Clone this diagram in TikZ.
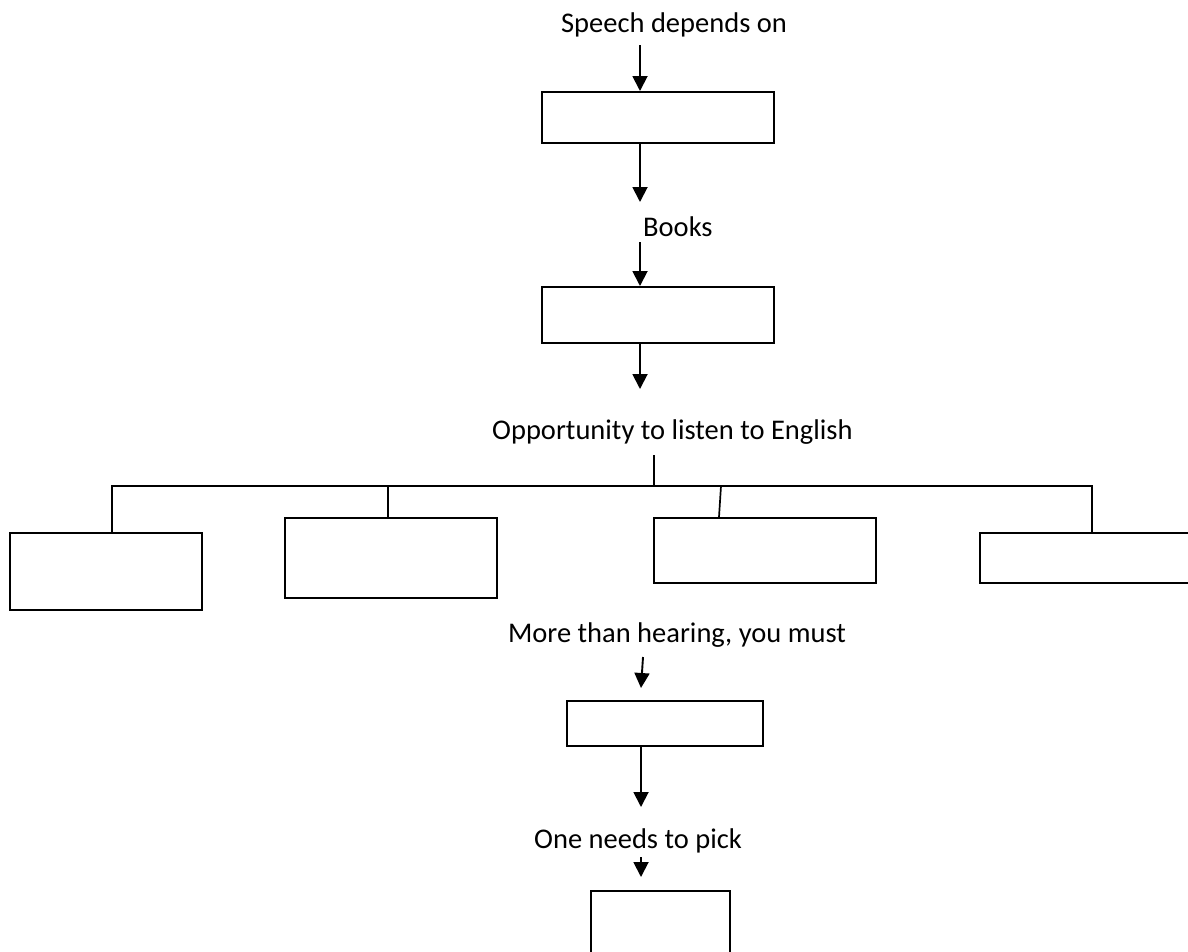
\documentclass[tikz,border=0pt]{standalone}
\usepackage{fontspec}
\setmainfont{Carlito}
\usetikzlibrary{arrows.meta}
\begin{document}
\begin{tikzpicture}[x=1pt,y=-1pt,
  box/.style={draw=black,line width=2pt,rectangle,inner sep=0pt,fill=white},
  lbl/.style={inner sep=0pt,font=\fontsize{28.5}{34}\selectfont},
  arr/.style={line width=1.9pt,-{Triangle[width=15pt,length=15pt]}},
  ln/.style={line width=1.7pt}]
\clip (0,0) rectangle (1188,951);
\fill[white] (0,0) rectangle (1188,951);

% texts
\node[lbl,anchor=base] (t1) at (674,32) {Speech depends on};
\node[lbl,anchor=base west] (t2) at (643,236) {Books};
\node[lbl,anchor=base west] (t3) at (492,439) {Opportunity to listen to English};
\node[lbl,anchor=base] (t4) at (677,642) {More than hearing, you must};
\node[lbl,anchor=base west] (t5) at (534,848) {One needs to pick};

% boxes
\node[box,minimum width=232pt,minimum height=51pt] (b1) at (658,117.5) {};
\node[box,minimum width=232pt,minimum height=56pt] (b2) at (658,315) {};
\node[box,minimum width=192pt,minimum height=77pt] (ba) at (106,571.5) {};
\node[box,minimum width=212pt,minimum height=80pt] (bb) at (391,558) {};
\node[box,minimum width=222pt,minimum height=65pt] (bc) at (765,550.5) {};
\node[box,minimum width=240pt,minimum height=50pt] (bd) at (1100,558) {};
\node[box,minimum width=196pt,minimum height=45pt] (b5) at (665,723.5) {};
\node[box,minimum width=139pt,minimum height=100pt] (b6) at (660.5,941) {};

% free ends
\coordinate (s1) at (640,45);
\coordinate (e2) at (640,202);
\coordinate (s3) at (640,242);
\coordinate (e4) at (640,389);
\coordinate (s5) at (654,455);
\coordinate (hl) at (112,486);
\coordinate (hr) at (1092,486);
\coordinate (hb) at (388,486);
\coordinate (hc) at (721,486);
\coordinate (hm) at (654,486);
\coordinate (s6) at (643,657);
\coordinate (e6) at (641,688);
\coordinate (e7) at (641,807);
\coordinate (s8) at (641,857);
\coordinate (e8) at (641,877);

% connectors
\draw[arr] (s1) -- (s1 |- b1.north);
\draw[arr] (b1.south -| s1) -- (e2);
\draw[arr] (s3) -- (s3 |- b2.north);
\draw[arr] (b2.south -| s3) -- (e4);
\draw[ln] (s5) -- (hm);
\draw[ln] (ba.north -| hl) -- (hl) -- (hr) -- (hr |- bd.north);
\draw[ln] (hb) -- (hb |- bb.north);
\draw[ln] (hc) -- ([xshift=-2pt]hc |- bc.north);
\draw[arr] (s6) -- (e6);
\draw[arr] (b5.south -| e7) -- (e7);
\draw[arr] (s8) -- (e8);
\end{tikzpicture}
\end{document}
